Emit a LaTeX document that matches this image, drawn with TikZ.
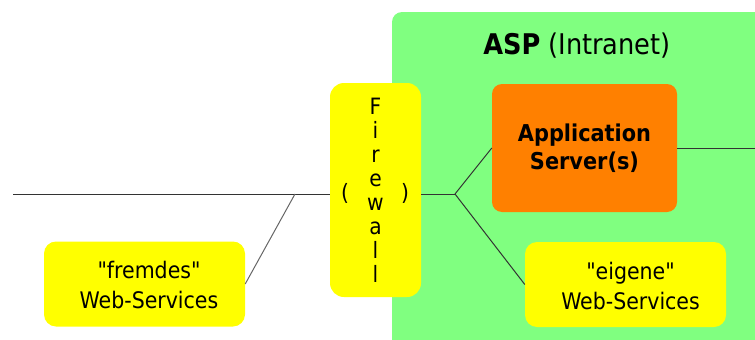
\documentclass[tikz,border=0pt]{standalone}
\usepackage{fontspec}
\setmainfont{DejaVu Sans Condensed}[Ligatures=TeXOff]
\definecolor{aspgreen}{HTML}{80FF80}
\definecolor{boxyellow}{HTML}{FFFF00}
\definecolor{appred}{HTML}{FF8000}
\definecolor{wire}{HTML}{333333}
\definecolor{wiregray}{HTML}{666666}
\begin{document}
\begin{tikzpicture}[x=1pt,y=-1pt,
  box/.style={rounded corners=12pt, inner sep=0pt, align=center},
  svcbox/.style={box, fill=boxyellow, minimum width=201pt, minimum height=85pt},
  svctext/.style={align=center, inner sep=0pt, font=\fontsize{22.8}{30}\selectfont},
  wireline/.style={draw=wire, line width=1pt},
  wirelight/.style={draw=wiregray, line width=1pt}]
\useasboundingbox (0,0) rectangle (755,340);
\clip (0,0) rectangle (755,340);

% intranet area
\fill[aspgreen, rounded corners=10pt] (392,12) rectangle (800,390);
\node[inner sep=0pt, font=\fontsize{28.5}{32}\selectfont] (title) at (577,46)
  {\textbf{ASP} (Intranet)};

% firewall
\node[box, rounded corners=14pt, fill=boxyellow, minimum width=91pt, minimum height=214pt,
  font=\fontsize{22.5}{24}\selectfont] (fw) at (375.5,190)
  {F\\i\\r\\e\\w\\a\\l\\l};
\node[inner sep=0pt, font=\fontsize{22.5}{24}\selectfont] (lpar) at (345,193) {(};
\node[inner sep=0pt, font=\fontsize{22.5}{24}\selectfont] (rpar) at (405,193) {)};

% application server
\node[box, rounded corners=10pt, fill=appred, minimum width=185pt, minimum height=128pt,
  font=\fontsize{23.2}{28}\selectfont\bfseries] (app) at (584.5,148)
  {Application\\Server(s)};

% web services
\node[svcbox] (fremd) at (144.5,284) {};
\node[svctext] (fremdtxt) at (149,285) {"fremdes"\\Web-Services};
\node[svcbox] (eig) at (625.5,284.5) {};
\node[svctext] (eigtxt) at (630.5,285.5) {"eigene"\\Web-Services};

% wiring
\coordinate (lft) at (13,194);
\coordinate (j1) at (295,194);
\coordinate (j2) at (455,194);
\coordinate (rgt) at (760,148);

\draw[wireline] (lft) -- (j1 -| fw.west);
\draw[wirelight] (j1) -- (fremd.east);
\draw[wireline] (fw.east |- j2) -- (j2);
\draw[wireline] (j2) -- (app.west);
\draw[wireline] (j2) -- (eig.west);
\draw[wireline] (app.east) -- (rgt);
\end{tikzpicture}
\end{document}
